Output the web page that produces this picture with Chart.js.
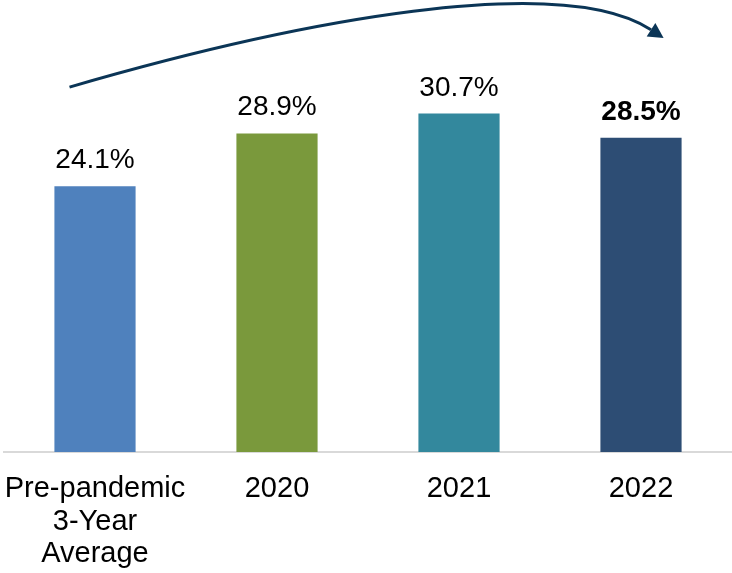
<!DOCTYPE html>
<html>
<head>
<meta charset="utf-8">
<style>
  html, body { margin: 0; padding: 0; background: #fff; }
  #wrap { width: 732px; height: 573px; position: relative; }
</style>
<script src="https://cdn.jsdelivr.net/npm/chart.js@4/dist/chart.umd.min.js"></script>
</head>
<body>
<div id="wrap"><canvas id="rateChart"></canvas></div>
<script>
// Categories and values
const categories = [['Pre-pandemic', '3-Year', 'Average'], '2020', '2021', '2022'];
const rates = [24.1, 28.9, 30.7, 28.5];
const barColors = ['#4f81bd', '#7a993c', '#33889d', '#2d4d74'];
const boldLabel = [false, false, false, true];

// Trend arrow path, in (category index, value) units: start, two control points, end
const arrowPath = [[-0.14, 33.1], [1.13, 39.2], [2.56, 43.6], [3.055, 38.3]];

const FONT = '"Liberation Sans", Arial, sans-serif';

// Percent labels above each bar
const valueLabels = {
    id: 'valueLabels',
    afterDatasetsDraw(chart) {
        const { ctx } = chart;
        const meta = chart.getDatasetMeta(0);
        ctx.save();
        ctx.fillStyle = '#000';
        ctx.textAlign = 'center';
        ctx.textBaseline = 'alphabetic';
        meta.data.forEach((bar, i) => {
            ctx.font = (boldLabel[i] ? 'bold ' : '') + '28px ' + FONT;
            ctx.fillText(rates[i].toFixed(1) + '%', bar.x, bar.y - 18);
        });
        ctx.restore();
    }
};

// Curved arrow across the top
const trendArrow = {
    id: 'trendArrow',
    afterDraw(chart) {
        const { ctx, scales: { x, y } } = chart;
        const pts = arrowPath.map(p => [x.getPixelForValue(p[0]), y.getPixelForValue(p[1])]);
        const color = '#0b3556';
        ctx.save();
        ctx.strokeStyle = color;
        ctx.fillStyle = color;
        ctx.lineWidth = 3;
        ctx.beginPath();
        ctx.moveTo(pts[0][0], pts[0][1]);
        ctx.bezierCurveTo(pts[1][0], pts[1][1], pts[2][0], pts[2][1], pts[3][0], pts[3][1]);
        ctx.stroke();

        // arrowhead along the end tangent
        const dx = pts[3][0] - pts[2][0];
        const dy = pts[3][1] - pts[2][1];
        const len = Math.hypot(dx, dy);
        const ux = dx / len, uy = dy / len;
        const headLen = 15, half = 8;
        const tipX = pts[3][0] + ux * headLen;
        const tipY = pts[3][1] + uy * headLen;
        ctx.beginPath();
        ctx.moveTo(tipX, tipY);
        ctx.lineTo(pts[3][0] - uy * half, pts[3][1] + ux * half);
        ctx.lineTo(pts[3][0] + uy * half, pts[3][1] - ux * half);
        ctx.closePath();
        ctx.fill();
        ctx.restore();
    }
};

new Chart(document.getElementById('rateChart'), {
    type: 'bar',
    data: {
        labels: categories,
        datasets: [{
            data: rates,
            backgroundColor: barColors,
            borderWidth: 0,
            barPercentage: 0.446,
            categoryPercentage: 1
        }]
    },
    options: {
        responsive: true,
        maintainAspectRatio: false,
        animation: false,
        events: [],
        layout: { padding: { left: 4, right: 0, top: 0, bottom: 0 } },
        plugins: {
            legend: { display: false },
            tooltip: { enabled: false }
        },
        scales: {
            x: {
                grid: { display: false, drawTicks: false },
                border: { display: true, color: '#d9d9d9', width: 2 },
                ticks: {
                    color: '#000',
                    padding: 21,
                    maxRotation: 0,
                    autoSkip: false,
                    font: { family: FONT, size: 29, lineHeight: 1.12 }
                },
                // fixed axis band under the bars, no extra side padding for long labels
                afterFit(scale) {
                    scale.height = 121;
                    scale.paddingLeft = 0;
                    scale.paddingRight = 0;
                }
            },
            y: {
                display: false,
                min: 0,
                max: 41
            }
        }
    },
    plugins: [valueLabels, trendArrow]
});
</script>
</body>
</html>
